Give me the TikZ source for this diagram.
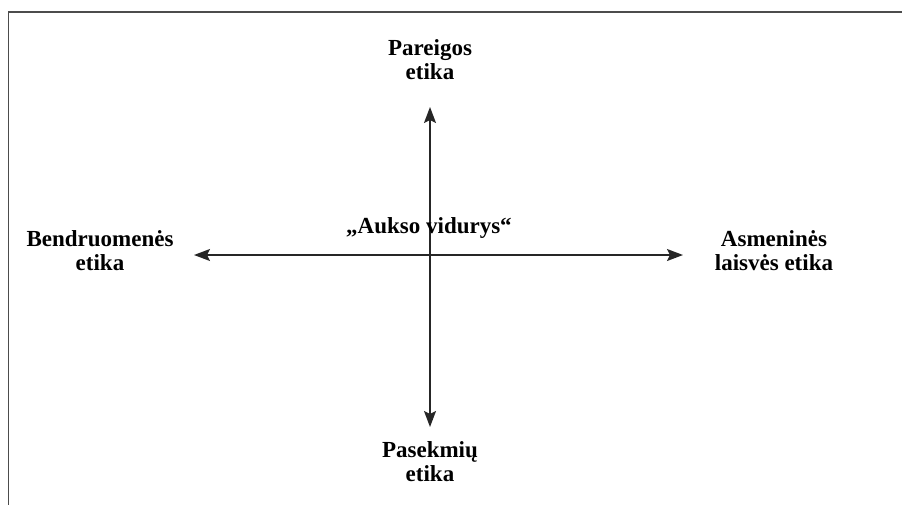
\documentclass[tikz,border=0pt]{standalone}
\usepackage{fontspec}
\setmainfont{Liberation Serif}
\usetikzlibrary{arrows.meta,positioning}
\tikzset{
    %Define standard arrow tip
    smeigas/.tip={Stealth[length=16pt,width=12pt,inset=3pt]},
    %Define style for the labels
    etika/.style={
           align=center,
           inner sep=0pt,
           font=\fontsize{23}{24}\selectfont\bfseries},
    % Define axis style
    asis/.style={
           smeigas-smeigas,
           line width=1.5pt,
           draw=black!85}
}
\begin{document}
\begin{tikzpicture}[x=1pt,y=-1pt]
\useasboundingbox (0,0) rectangle (902,504);
\draw[line width=1.5pt, draw=black!70] (910,12) -- (8.5,12) -- (8.5,512);

 %axes
\coordinate (mid) at (430,255);
\coordinate (up) at (430,107);
\coordinate (down) at (430,427);
\coordinate (left) at (194,255);
\coordinate (right) at (683,255);
\draw[asis] (up) -- (down);
\draw[asis] (left) -- (right);

 %labels
\node[etika] (pareigos) at (430,60) {Pareigos\\etika};
\node[etika] (pasekmiu) at (430,462) {Pasekmių\\etika};
\node[etika] (bendr) at (100,251) {Bendruomenės\\etika};
\node[etika] (asmen) at (774,251) {Asmeninės\\laisvės etika};
\node[etika] (aukso) at (429,228) {„Aukso vidurys“};

\end{tikzpicture}
\end{document}
